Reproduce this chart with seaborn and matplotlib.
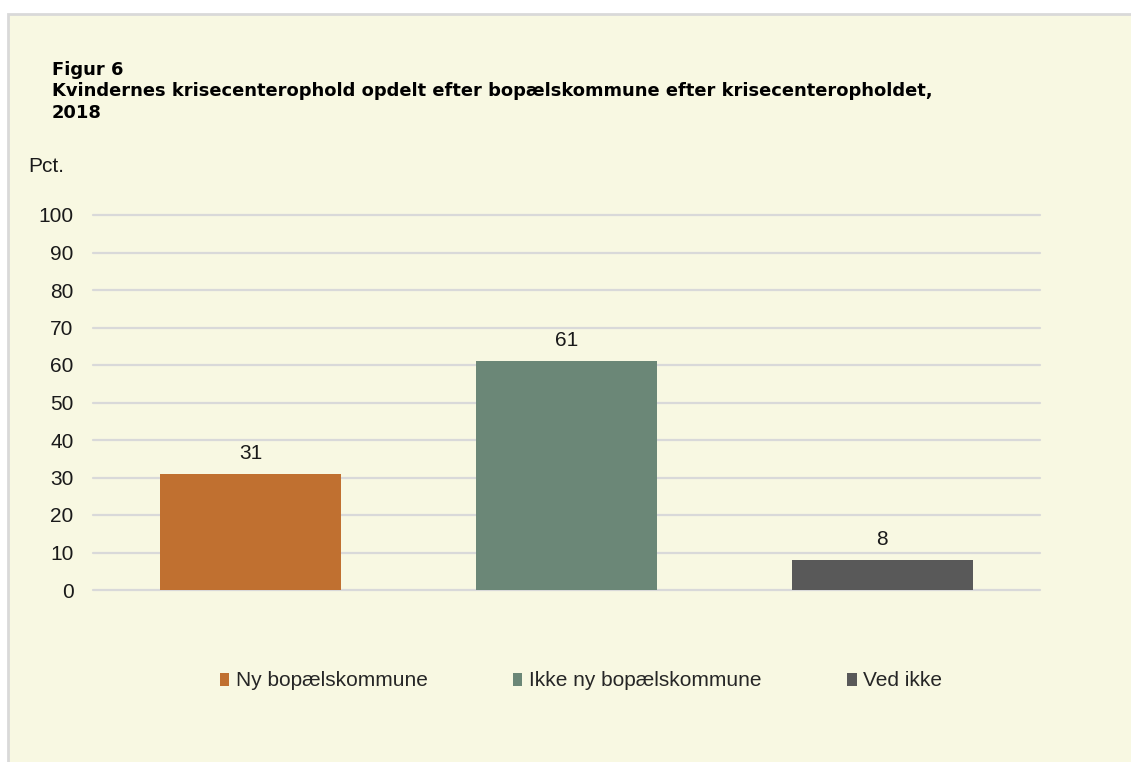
import numpy as np
import pandas as pd
import seaborn as sns
import matplotlib.pyplot as plt
from matplotlib.patches import Rectangle, Patch

# data
categories = ["Ny bopælskommune", "Ikke ny bopælskommune", "Ved ikke"]
values = [31, 61, 8]
colors = ["#C07030", "#6B8777", "#595959"]
yticks = [0, 10, 20, 30, 40, 50, 60, 70, 80, 90, 100]

bg = "#F8F8E2"
grid_col = "#D9D9D9"

sns.set_theme(style="white")
plt.rcParams['font.family'] = ['Liberation Sans', 'DejaVu Sans']

df = pd.DataFrame({"kategori": categories, "pct": values})

fig = plt.figure(figsize=(11.31, 7.62), dpi=100)
fig.patch.set_facecolor("white")
# beige panel with a thin grey frame on left/top
panel = Rectangle((8 / 1131, -0.01), 1.0, 1.01 - 14 / 762, transform=fig.transFigure,
                  facecolor=bg, edgecolor=grid_col, linewidth=2, zorder=-10)
fig.add_artist(panel)

ax = fig.add_axes([93 / 1131, 1 - 590 / 762, 947 / 1131, 375 / 762])
ax.set_facecolor("none")

sns.barplot(data=df, x="kategori", y="pct", hue="kategori", palette=colors,
            dodge=False, width=0.573, saturation=1, legend=False, linewidth=0, ax=ax)

for c in ax.containers:
    ax.bar_label(c, fmt="%d", padding=8, fontsize=15, color="#1a1a1a")

ax.set_ylim(0, 100)
ax.set_xlim(-0.5, 2.5)
ax.set_yticks(yticks)
ax.set_xticks([])
ax.set_xlabel("")
ax.set_ylabel("")
ax.tick_params(axis="y", length=0, labelsize=15, pad=14, labelcolor="#1a1a1a")
for s in ax.spines.values():
    s.set_visible(False)
ax.yaxis.grid(True, color=grid_col, linewidth=1.6)
for gl in ax.get_ygridlines():
    gl.set_clip_on(False)
ax.set_axisbelow(True)

# titles
fig.text(52 / 1131, 1 - 61 / 762,
         "Figur 6\nKvindernes krisecenterophold opdelt efter bopælskommune efter krisecenteropholdet,\n2018",
         fontsize=12.9, fontweight="bold", va="top", ha="left", linespacing=1.25, color="black",
         family="DejaVu Sans")
fig.text(28 / 1131, 1 - 167 / 762, "Pct.", fontsize=15, va="center", ha="left", color="#1a1a1a")

handles = [Patch(facecolor=c, edgecolor="none") for c in colors]
fig.legend(handles, categories, loc="center", bbox_to_anchor=(581 / 1131, 1 - 681 / 762),
           ncol=3, frameon=False, fontsize=15, handlelength=0.45, handleheight=0.6,
           handletextpad=0.33, columnspacing=4.1)

plt.savefig("out.png", dpi=100, facecolor=fig.get_facecolor())
